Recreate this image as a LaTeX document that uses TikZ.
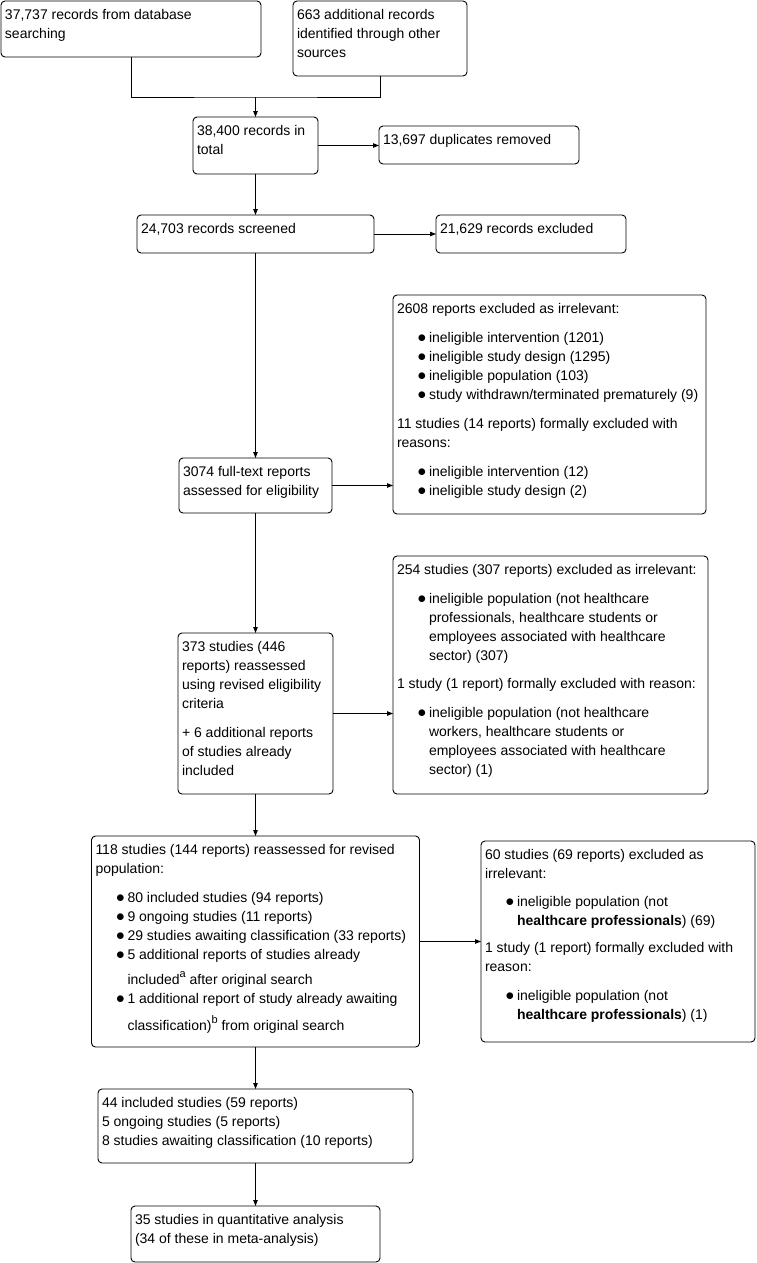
\documentclass[tikz,border=0pt]{standalone}
\usepackage{fontspec}
\usepackage{graphicx}
\setmainfont{Liberation Sans}
\usetikzlibrary{arrows.meta}
\newcommand\bx[3]{\parbox[c][#2pt][t]{\dimexpr #1pt-8pt\relax}{\rule{0pt}{18.5pt}\begin{tabular}[t]{@{}l@{}}#3\end{tabular}}}
\newcommand\bul{\hspace*{20.5pt}\makebox[11.5pt][l]{\scalebox{1.2}{$\bullet$}}}
\newcommand\ind{\hspace*{32pt}}
\newcommand\supr[1]{\raisebox{7.5pt}{\fontsize{11pt}{11pt}\selectfont #1}}
\tikzset{
  box/.style={draw, line width=0.9pt, rounded corners=4pt, inner xsep=4pt, inner ysep=0pt, outer sep=0pt, anchor=north west, font=\fontsize{14pt}{19pt}\selectfont},
  arr/.style={line width=0.9pt, -{Triangle[length=6pt,width=4.5pt]}},
  con/.style={line width=0.9pt}
}
\begin{document}
\begin{tikzpicture}[x=1pt,y=-1pt]
\fill[white] (0,0) rectangle (756,1263);
\path[use as bounding box] (0,0) rectangle (756,1263);

\node[box] (A) at (1,1) {\bx{260}{56}{37,737 records from database\\ searching}};
\node[box] (B) at (293,1) {\bx{174}{75}{663 additional records\\ identified through other\\ sources}};
\node[box] (C) at (193,117) {\bx{125}{57}{38,400 records in\\ total}};
\node[box] (D) at (379,126) {\bx{200}{38}{13,697 duplicates removed}};
\node[box] (E) at (137,215) {\bx{237}{38}{24,703 records screened}};
\node[box] (F) at (436,215) {\bx{190}{38}{21,629 records excluded}};
\node[box] (H) at (393,295) {\bx{313}{219}{2608 reports excluded as irrelevant:\\[10pt]
\bul ineligible intervention (1201)\\
\bul ineligible study design (1295)\\
\bul ineligible population (103)\\
\bul study withdrawn/terminated prematurely (9)\\[10pt]
11 studies (14 reports) formally excluded with\\
reasons:\\[10pt]
\bul ineligible intervention (12)\\
\bul ineligible study design (2)}};
\node[box] (G) at (179,458) {\bx{153}{55}{3074 full-text reports\\ assessed for eligibility}};
\node[box] (I) at (393,556) {\bx{315}{238}{254 studies (307 reports) excluded as irrelevant:\\[10pt]
\bul ineligible population (not healthcare\\
\ind professionals, healthcare students or\\
\ind employees associated with healthcare\\
\ind sector) (307)\\[9pt]
1 study (1 report) formally excluded with reason:\\[10pt]
\bul ineligible population (not healthcare\\
\ind workers, healthcare students or\\
\ind employees associated with healthcare\\
\ind sector) (1)}};
\node[box] (J) at (178,633) {\bx{155}{161}{373 studies (446\\
reports) reassessed\\
using revised eligibility\\
criteria\\[10pt]
+ 6 additional reports\\
of studies already\\
included}};
\node[box] (K) at (91.5,836) {\bx{328}{211}{118 studies (144 reports) reassessed for revised\\
population:\\[10pt]
\bul 80 included studies (94 reports)\\
\bul 9 ongoing studies (11 reports)\\
\bul 29 studies awaiting classification (33 reports)\\
\bul 5 additional reports of studies already\\[6pt]
\ind included\supr{a} after original search\\
\bul 1 additional report of study already awaiting\\[6pt]
\ind classification)\supr{b} from original search}};
\node[box] (L) at (481,841) {\bx{274}{201}{60 studies (69 reports) excluded as\\
irrelevant:\\[9pt]
\bul ineligible population (not\\
\ind \textbf{healthcare professionals}) (69)\\[8pt]
1 study (1 report) formally excluded with\\
reason:\\[10pt]
\bul ineligible population (not\\
\ind \textbf{healthcare professionals}) (1)}};
\node[box] (M) at (98,1089) {\bx{315}{74}{44 included studies (59 reports)\\
5 ongoing studies (5 reports)\\
8 studies awaiting classification (10 reports)}};
\node[box] (N) at (131,1206) {\bx{249}{56}{35 studies in quantitative analysis\\
(34 of these in meta-analysis)}};

\coordinate (j1) at (255.5,97);
\draw[con] (A.south) |- (j1) -| (B.south);
\draw[arr] (j1) -- (j1 |- C.north);
\draw[arr] (C.east) -- (C.east -| D.west);
\draw[arr] (C.south) -- (C.south |- E.north);
\draw[arr] (E.east) -- (E.east -| F.west);
\draw[arr] (E.south) -- (E.south |- G.north);
\draw[arr] (G.east) -- (G.east -| H.west);
\draw[arr] (G.south) -- (G.south |- J.north);
\draw[arr] (J.east) -- (J.east -| I.west);
\draw[arr] (J.south) -- (J.south |- K.north);
\draw[arr] (K.east) -- (K.east -| L.west);
\draw[arr] (K.south) -- (K.south |- M.north);
\draw[arr] (M.south) -- (M.south |- N.north);
\end{tikzpicture}
\end{document}
